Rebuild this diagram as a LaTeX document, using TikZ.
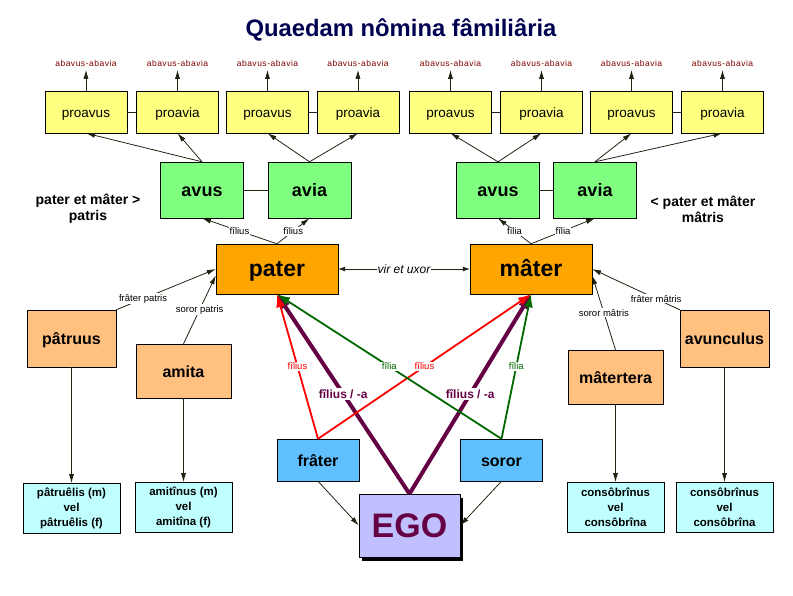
\documentclass[tikz,border=0pt]{standalone}
\usepackage{fontspec}
\setmainfont{Liberation Sans}
\newfontfamily\abfont[LetterSpace=6]{Liberation Sans}
\usetikzlibrary{positioning,arrows.meta,shadows}
\definecolor{navy}{HTML}{000050}
\definecolor{abred}{HTML}{800000}
\definecolor{proyel}{HTML}{FFFF80}
\definecolor{avgreen}{HTML}{80FF80}
\definecolor{parorange}{HTML}{FFA500}
\definecolor{uncorange}{HTML}{FFC080}
\definecolor{coucyan}{HTML}{C0FFFF}
\definecolor{sibblue}{HTML}{60C0FF}
\definecolor{egolav}{HTML}{C0C0FF}
\definecolor{egopur}{HTML}{660044}
\definecolor{linec}{HTML}{222211}
\definecolor{filgreen}{HTML}{006600}
\begin{document}
\begin{tikzpicture}[x=1pt, y=-1pt,
  title/.style = {text=navy, font=\fontsize{23.8}{28}\bfseries\selectfont},
  abav/.style = {text=abred, inner xsep=1pt, inner ysep=3.5pt, font=\abfont\fontsize{8.5}{10}\selectfont},
  proav/.style = {draw, fill=proyel, minimum width=82pt, minimum height=42pt, text height=13pt, text depth=2pt, font=\fontsize{13.5}{16}\selectfont},
  avbox/.style = {draw, fill=avgreen, minimum width=83pt, minimum height=56pt, text height=16pt, text depth=3pt, font=\fontsize{18}{20}\bfseries\selectfont},
  parbox/.style = {draw, fill=parorange, minimum width=122pt, minimum height=50pt, text height=19pt, text depth=5pt, font=\fontsize{23}{26}\bfseries\selectfont},
  uncbox/.style = {draw, fill=uncorange, text height=14pt, text depth=2pt, font=\fontsize{16}{18}\bfseries\selectfont},
  cousin/.style = {draw, fill=coucyan, minimum width=97pt, minimum height=50pt, align=center, inner sep=0pt, font=\fontsize{11.5}{15}\bfseries\selectfont},
  sib/.style = {draw, fill=sibblue, minimum width=82pt, minimum height=42pt, text height=14pt, text depth=2pt, font=\fontsize{16}{18}\bfseries\selectfont},
  egobox/.style = {draw, fill=egolav, minimum width=101pt, minimum height=63pt, text=egopur, font=\fontsize{34}{38}\bfseries\selectfont,
    drop shadow={shadow xshift=3pt, shadow yshift=-4pt, fill=black, opacity=1}},
  side/.style = {align=center, font=\fontsize{14}{16}\bfseries\selectfont},
  lnk/.style = {draw=linec, line width=0.8pt},
  arr/.style = {lnk, -{Latex[length=9pt,width=5pt]}},
  lab/.style = {fill=white, inner sep=1pt, font=\fontsize{9.5}{11}\selectfont},
  redarr/.style = {draw=red, line width=1.8pt, -{Latex[length=13pt,width=9pt]}},
  grnarr/.style = {draw=filgreen, line width=1.8pt, -{Latex[length=13pt,width=9pt]}},
  purarr/.style = {draw=egopur, line width=4pt, -{Latex[length=15pt,width=11pt]}}]
\useasboundingbox (0,0) rectangle (793,595);
\node[title] (ttl) at (401,30) {Quaedam nômina fâmiliâria};
\node[proav] (pv1) at (86,112) {proavus};
\node[proav] (pv2) at (177.5,112) {proavia};
\node[proav] (pv3) at (267.5,112) {proavus};
\node[proav] (pv4) at (358,112) {proavia};
\node[proav] (pv5) at (450.5,112) {proavus};
\node[proav] (pv6) at (541.5,112) {proavia};
\node[proav] (pv7) at (631.5,112) {proavus};
\node[proav] (pv8) at (722.5,112) {proavia};
\node[abav] (ab1) [above=21pt of pv1] {abavus-abavia};
\node[abav] (ab2) [above=21pt of pv2] {abavus-abavia};
\node[abav] (ab3) [above=21pt of pv3] {abavus-abavia};
\node[abav] (ab4) [above=21pt of pv4] {abavus-abavia};
\node[abav] (ab5) [above=21pt of pv5] {abavus-abavia};
\node[abav] (ab6) [above=21pt of pv6] {abavus-abavia};
\node[abav] (ab7) [above=21pt of pv7] {abavus-abavia};
\node[abav] (ab8) [above=21pt of pv8] {abavus-abavia};
\node[avbox] (avusP) at (202,190) {avus};
\node[avbox] (aviaP) at (309.5,190) {avia};
\node[avbox] (avusM) at (498,190) {avus};
\node[avbox] (aviaM) at (595,190) {avia};
\node[side] (patrisLab) at (88,209) {pater et mâter >\\patris};
\node[side] (matrisLab) at (703,209) {< pater et mâter\\mâtris};
\node[parbox] (pater) at (277,269) {pater};
\node[parbox] (mater) at (531,269) {mâter};
\node[uncbox, minimum width=89pt, minimum height=57pt] (patruus) at (71.5,338.5) {pâtruus};
\node[uncbox, minimum width=95pt, minimum height=54pt] (amita) at (183.5,371) {amita};
\node[uncbox, minimum width=95pt, minimum height=54pt] (matertera) at (615.5,377) {mâtertera};
\node[uncbox, minimum width=89pt, minimum height=57pt] (avunculus) at (724.5,338.5) {avunculus};
\node[cousin] (cs1) [below=116pt of patruus] {pâtruêlis (m)\\vel\\pâtruêlis (f)};
\node[cousin] (cs2) [below=84pt of amita] {amitînus (m)\\vel\\amitîna (f)};
\node[cousin] (cs3) [below=78pt of matertera] {consôbrînus\\vel\\consôbrîna};
\node[cousin] (cs4) [below=115pt of avunculus] {consôbrînus\\vel\\consôbrîna};
\node[sib] (frater) at (318,460) {frâter};
\node[sib] (soror) at (501.5,460) {soror};
\node[egobox] (ego) at (409.5,525.5) {EGO};
\draw[arr] (pv1) -- (ab1);
\draw[arr] (pv2) -- (ab2);
\draw[arr] (pv3) -- (ab3);
\draw[arr] (pv4) -- (ab4);
\draw[arr] (pv5) -- (ab5);
\draw[arr] (pv6) -- (ab6);
\draw[arr] (pv7) -- (ab7);
\draw[arr] (pv8) -- (ab8);
\draw[lnk] (pv1) -- (pv2);
\draw[lnk] (pv3) -- (pv4);
\draw[lnk] (pv5) -- (pv6);
\draw[lnk] (pv7) -- (pv8);
\draw[lnk] (avusP) -- (aviaP);
\draw[lnk] (avusM) -- (aviaM);
\draw[arr] (avusP.north) -- (pv1.south);
\draw[arr] (avusP.north) -- (pv2.south);
\draw[arr] (aviaP.north) -- (pv3.south);
\draw[arr] (aviaP.north) -- (pv4.south);
\draw[arr] (avusM.north) -- (pv5.south);
\draw[arr] (avusM.north) -- (pv6.south);
\draw[arr] (aviaM.north) -- (pv7.south);
\draw[arr] (aviaM.north) -- (pv8.south);
\draw[arr] (pater.north) -- node[lab] {fîlius} (avusP.south);
\draw[arr] (pater.north) -- node[lab] {fîlius} (aviaP.south);
\draw[arr] (mater.north) -- node[lab] {fîlia} (avusM.south);
\draw[arr] (mater.north) -- node[lab] {fîlia} (aviaM.south);
\draw[lnk, {Latex[length=7pt,width=5pt]}-{Latex[length=7pt,width=5pt]}] (pater) -- node[lab, font=\fontsize{12}{14}\itshape\selectfont] {vir et uxor} (mater);
\draw[arr] (patruus.north east) -- node[lab, pos=0.27] {frâter patris} (pater.west);
\draw[arr] (amita.north) -- node[lab] {soror patris} (pater.186);
\draw[arr] (matertera.north) -- node[lab] {soror mâtris} (mater.354);
\draw[arr] (avunculus.north west) -- node[lab, pos=0.27] {frâter mâtris} (mater.east);
\draw[arr] (patruus) -- (cs1);
\draw[arr] (amita) -- (cs2);
\draw[arr] (matertera) -- (cs3);
\draw[arr] (avunculus) -- (cs4);
\draw[arr] (frater.south) -- (ego.west);
\draw[arr] (soror.south) -- (ego.east);
\draw[purarr] (ego.north) -- node[lab, text=egopur, font=\fontsize{12}{14}\bfseries\selectfont] {fîlius / -a} (pater.south);
\draw[purarr] (ego.north) -- node[lab, text=egopur, font=\fontsize{12}{14}\bfseries\selectfont] {fîlius / -a} (mater.south);
\draw[redarr] (frater.north) -- node[lab, text=red] {fîlius} (pater.south);
\draw[redarr] (frater.north) -- node[lab, text=red] {fîlius} (mater.south);
\draw[grnarr] (soror.north) -- node[lab, text=filgreen] {fîlia} (pater.south);
\draw[grnarr] (soror.north) -- node[lab, text=filgreen] {fîlia} (mater.south);
\end{tikzpicture}
\end{document}
